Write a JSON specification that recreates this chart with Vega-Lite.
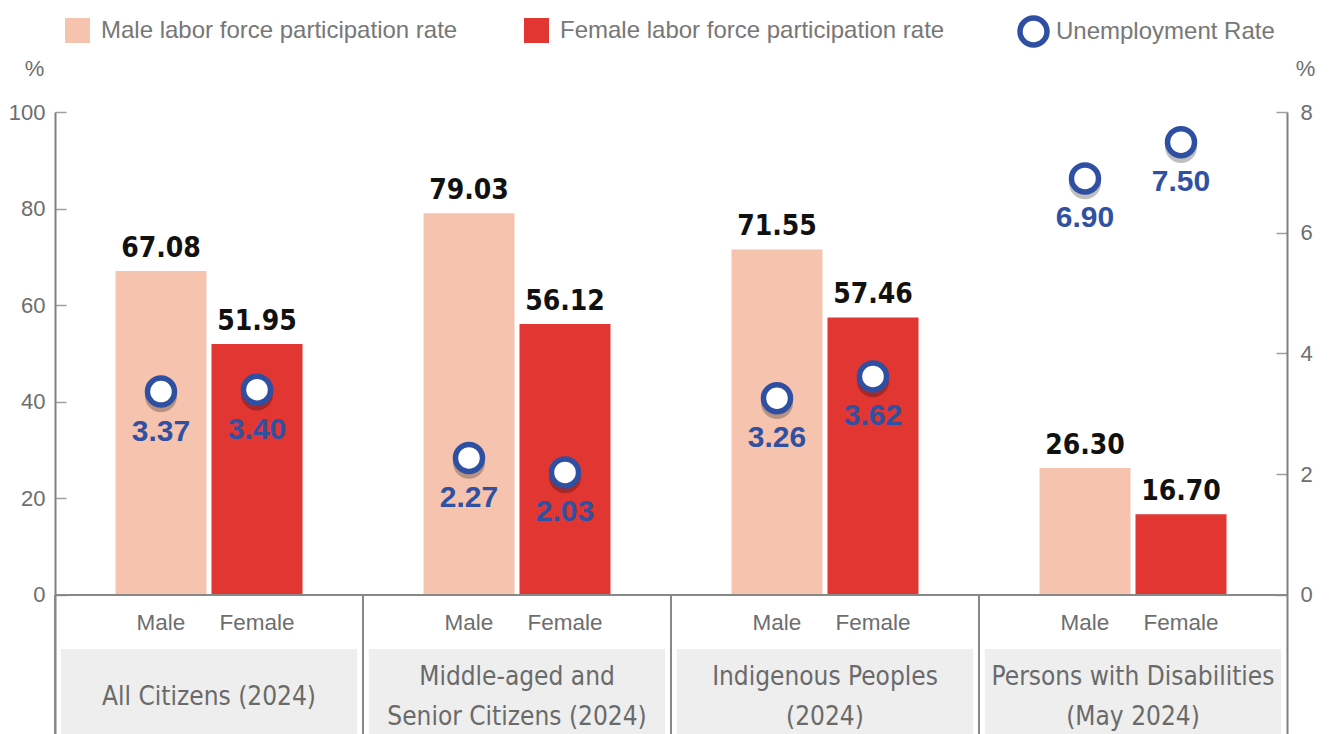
{
  "$schema": "https://vega.github.io/schema/vega-lite/v6.json",
  "width": 1232,
  "height": 622,
  "autosize": {"type": "none"},
  "padding": {"left": 55, "top": 112, "right": 43, "bottom": 0},
  "background": "white",
  "config": {"view": {"stroke": null}, "font": "Liberation Sans"},
  "data": {
    "values": [
      {"group": "All Citizens (2024)", "title": "All Citizens (2024)", "sex": "Male", "lfpr": 67.08, "unemp": 3.37},
      {"group": "All Citizens (2024)", "title": "All Citizens (2024)", "sex": "Female", "lfpr": 51.95, "unemp": 3.40},
      {"group": "Middle-aged and Senior Citizens (2024)", "title": "Middle-aged and\nSenior Citizens (2024)", "sex": "Male", "lfpr": 79.03, "unemp": 2.27},
      {"group": "Middle-aged and Senior Citizens (2024)", "title": "Middle-aged and\nSenior Citizens (2024)", "sex": "Female", "lfpr": 56.12, "unemp": 2.03},
      {"group": "Indigenous Peoples (2024)", "title": "Indigenous Peoples\n(2024)", "sex": "Male", "lfpr": 71.55, "unemp": 3.26},
      {"group": "Indigenous Peoples (2024)", "title": "Indigenous Peoples\n(2024)", "sex": "Female", "lfpr": 57.46, "unemp": 3.62},
      {"group": "Persons with Disabilities (May 2024)", "title": "Persons with Disabilities\n(May 2024)", "sex": "Male", "lfpr": 26.30, "unemp": 6.90},
      {"group": "Persons with Disabilities (May 2024)", "title": "Persons with Disabilities\n(May 2024)", "sex": "Female", "lfpr": 16.70, "unemp": 7.50}
    ]
  },
  "layer": [
    {
      "layer": [
        {
          "transform": [{"filter": "datum.sex == 'Male'"}],
          "mark": {"type": "bar", "color": "#eeeeee", "width": {"band": 0.962}},
          "encoding": {
            "x": {"field": "group", "type": "nominal", "axis": null},
            "y": {"datum": -11.2, "type": "quantitative"},
            "y2": {"datum": -28.78}
          }
        },
        {
          "mark": {"type": "bar"},
          "encoding": {
            "x": {"field": "group", "type": "nominal", "axis": null,
                  "scale": {"domain": ["All Citizens (2024)", "Middle-aged and Senior Citizens (2024)", "Indigenous Peoples (2024)", "Persons with Disabilities (May 2024)"], "paddingInner": 0, "paddingOuter": 0}},
            "xOffset": {"field": "sex", "type": "nominal", "scale": {"domain": ["Male", "Female"], "paddingInner": 0.052, "paddingOuter": 0.63}},
            "y": {"field": "lfpr", "type": "quantitative",
                  "scale": {"domain": [-28.78, 100], "nice": false, "zero": false},
                  "axis": {"values": [0, 20, 40, 60, 80, 100], "grid": false, "orient": "left",
                           "domainColor": "#808080", "domainWidth": 2,
                           "tickColor": "#a0a0a0", "tickWidth": 1.5, "tickSize": -11,
                           "labelPadding": 21, "labelFontSize": 22, "labelColor": "#6e6e6e", "labelFont": "Liberation Sans",
                           "title": "%", "titleAngle": 0, "titleX": -21, "titleY": -44, "titleAlign": "center", "titleBaseline": "middle",
                           "titleFontSize": 22, "titleFontWeight": "normal", "titleColor": "#6e6e6e", "titleFont": "Liberation Sans"}},
            "y2": {"datum": 0},
            "fill": {"field": "sex", "type": "nominal",
                     "scale": {"domain": ["Male", "Female"], "range": ["#f5c3ae", "#e23633"]},
                     "legend": {"orient": "none", "legendX": 10, "legendY": -94, "direction": "horizontal", "title": null,
                                "symbolType": "square", "symbolSize": 625, "symbolStrokeWidth": 0,
                                "labelFontSize": 24, "labelColor": "#777777", "labelFont": "Liberation Sans", "labelOffset": 11, "labelLimit": 600,
                                "columnPadding": 66, "padding": 0,
                                "labelExpr": "datum.label + ' labor force participation rate'"}}
          }
        },
        {
          "mark": {"type": "rule", "color": "#888888", "strokeWidth": 2},
          "encoding": {"y": {"datum": 0, "type": "quantitative"}}
        },
        {
          "transform": [{"filter": "datum.sex == 'Male'"}],
          "mark": {"type": "rule", "color": "#888888", "strokeWidth": 2},
          "encoding": {
            "x": {"field": "group", "type": "nominal", "axis": null, "bandPosition": 0},
            "y": {"datum": 0, "type": "quantitative"},
            "y2": {"datum": -28.78}
          }
        },
        {
          "mark": {"type": "text", "font": "DejaVu Sans Condensed, Roboto Condensed, Liberation Sans, sans-serif", "fontWeight": "bold", "fontSize": 28, "color": "#111111", "baseline": "alphabetic", "dy": -14},
          "encoding": {
            "x": {"field": "group", "type": "nominal", "axis": null},
            "xOffset": {"field": "sex", "type": "nominal"},
            "y": {"field": "lfpr", "type": "quantitative"},
            "text": {"field": "lfpr", "type": "quantitative", "format": ".2f"}
          }
        },
        {
          "mark": {"type": "text", "font": "Liberation Sans", "fontSize": 22.5, "color": "#6e6e6e", "baseline": "middle"},
          "encoding": {
            "x": {"field": "group", "type": "nominal", "axis": null},
            "xOffset": {"field": "sex", "type": "nominal"},
            "y": {"datum": -5.8, "type": "quantitative"},
            "text": {"field": "sex", "type": "nominal"}
          }
        },
        {
          "transform": [{"filter": "datum.sex == 'Male' && indexof(datum.title, '\\n') < 0"}],
          "mark": {"type": "text", "font": "DejaVu Sans Condensed, Roboto Condensed, Liberation Sans, sans-serif", "fontSize": 26, "color": "#6a6a6a", "baseline": "middle"},
          "encoding": {
            "x": {"field": "group", "type": "nominal", "axis": null},
            "y": {"datum": -21.1, "type": "quantitative"},
            "text": {"field": "title", "type": "nominal"}
          }
        },
        {
          "transform": [{"filter": "datum.sex == 'Male' && indexof(datum.title, '\\n') >= 0"}],
          "mark": {"type": "text", "font": "DejaVu Sans Condensed, Roboto Condensed, Liberation Sans, sans-serif", "fontSize": 26, "color": "#6a6a6a", "baseline": "middle", "lineBreak": "\n", "lineHeight": 40},
          "encoding": {
            "x": {"field": "group", "type": "nominal", "axis": null},
            "y": {"datum": -16.98, "type": "quantitative"},
            "text": {"field": "title", "type": "nominal"}
          }
        }
      ]
    },
    {
      "layer": [
        {
          "mark": {"type": "point", "filled": true, "fill": "#000000", "fillOpacity": 0.25, "strokeWidth": 0, "opacity": 1, "size": 1024,
                   "shape": "M 1 0.3 A 1 1 0 1 1 -1 0.3 A 1 1 0 1 1 1 0.3 Z"},
          "encoding": {
            "x": {"field": "group", "type": "nominal", "axis": null},
            "xOffset": {"field": "sex", "type": "nominal"},
            "y": {"field": "unemp", "type": "quantitative"}
          }
        },
        {
          "mark": {"type": "point", "shape": "circle", "filled": true, "fill": "#ffffff", "strokeWidth": 5.5, "opacity": 1, "size": 730},
          "encoding": {
            "x": {"field": "group", "type": "nominal", "axis": null},
            "xOffset": {"field": "sex", "type": "nominal"},
            "y": {"field": "unemp", "type": "quantitative",
                  "scale": {"domain": [-2.3024, 8], "nice": false, "zero": false},
                  "axis": {"values": [0, 2, 4, 6, 8], "format": "d", "grid": false, "orient": "right",
                           "domainColor": "#808080", "domainWidth": 2,
                           "tickColor": "#a0a0a0", "tickWidth": 1.5, "tickSize": -11,
                           "labelPadding": 24, "labelFontSize": 22, "labelColor": "#6e6e6e", "labelFont": "Liberation Sans",
                           "title": "%", "titleAngle": 0, "titleX": 18, "titleY": -44, "titleAlign": "center", "titleBaseline": "middle",
                           "titleFontSize": 22, "titleFontWeight": "normal", "titleColor": "#6e6e6e", "titleFont": "Liberation Sans"}},
            "stroke": {"datum": "Unemployment Rate", "type": "nominal",
                       "scale": {"range": ["#2f4fa2"]},
                       "legend": {"orient": "none", "legendX": 962, "legendY": -97, "title": null,
                                  "symbolType": "circle", "symbolSize": 729, "symbolStrokeWidth": 5.5, "symbolFillColor": "#ffffff",
                                  "labelFontSize": 24, "labelColor": "#777777", "labelFont": "Liberation Sans", "labelOffset": 6, "labelLimit": 600, "padding": 0}}
          }
        },
        {
          "mark": {"type": "text", "font": "Liberation Sans", "fontWeight": "bold", "fontSize": 30, "color": "#3050a2", "baseline": "middle", "dy": 40},
          "encoding": {
            "x": {"field": "group", "type": "nominal", "axis": null},
            "xOffset": {"field": "sex", "type": "nominal"},
            "y": {"field": "unemp", "type": "quantitative"},
            "text": {"field": "unemp", "type": "quantitative", "format": ".2f"}
          }
        }
      ]
    }
  ],
  "resolve": {"scale": {"y": "independent"}, "axis": {"y": "independent"}}
}
